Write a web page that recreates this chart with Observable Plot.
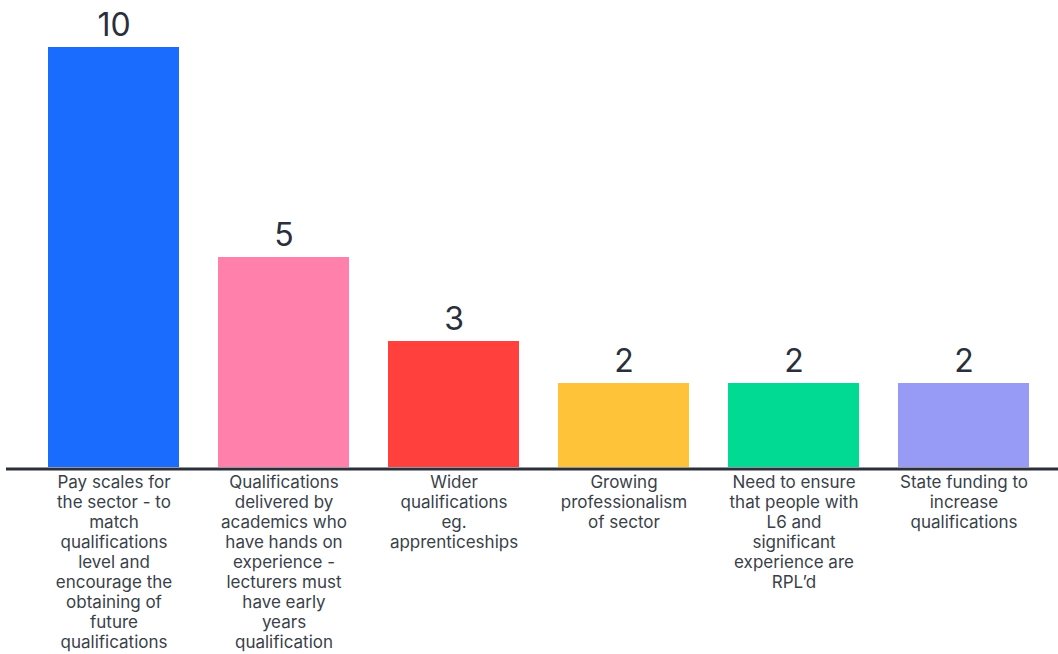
<!DOCTYPE html>
<html>
<head>
<meta charset="utf-8">
<script src="https://cdn.jsdelivr.net/npm/d3@7"></script>
<script src="https://cdn.jsdelivr.net/npm/@observablehq/plot@0.6"></script>
<style>
  html, body { margin: 0; padding: 0; background: #fff; }
  #chart { width: 1058px; height: 654px; }
  svg { display: block; }
</style>
</head>
<body>
<div id="chart"></div>
<script>
const categories = [
  "Pay scales for\nthe sector - to\nmatch\nqualifications\nlevel and\nencourage the\nobtaining of\nfuture\nqualifications",
  "Qualifications\ndelivered by\nacademics who\nhave hands on\nexperience -\nlecturers must\nhave early\nyears\nqualification",
  "Wider\nqualifications\neg.\napprenticeships",
  "Growing\nprofessionalism\nof sector",
  "Need to ensure\nthat people with\nL6 and\nsignificant\nexperience are\nRPL\u2019d",
  "State funding to\nincrease\nqualifications"
];
const values = [10, 5, 3, 2, 2, 2];
const colors = ["#196cff", "#ff80ab", "#ff403d", "#ffc33a", "#00da92", "#979bf5"];

const data = categories.map((c, i) => ({category: c, value: values[i], color: colors[i]}));

const chart = Plot.plot({
  width: 1058,
  height: 654,
  marginTop: 47,
  marginBottom: 187,
  marginLeft: 6,
  marginRight: 0,
  style: {fontFamily: "Inter, 'Noto Sans', sans-serif", color: "#2d323d", background: "#fff"},
  x: {domain: categories, paddingInner: 0.2294, paddingOuter: 0.2088, align: 0.5915, label: null},
  y: {domain: [0, 10], axis: null},
  marks: [
    Plot.barY(data, {x: "category", y: "value", fill: "color"}),
    Plot.ruleY([0], {stroke: "#2a2f3a", strokeWidth: 3, dy: 1.5}),
    Plot.text(data, {x: "category", y: "value", text: d => String(d.value), fontSize: 32, fill: "#2a2f3a", lineAnchor: "bottom", dy: -12}),
    Plot.axisX({tickSize: 0, tickPadding: 6, fontSize: 17, lineHeight: 20/17, fill: "#3a3f4a", label: null})
  ]
});
document.getElementById("chart").append(chart);
</script>
</body>
</html>
